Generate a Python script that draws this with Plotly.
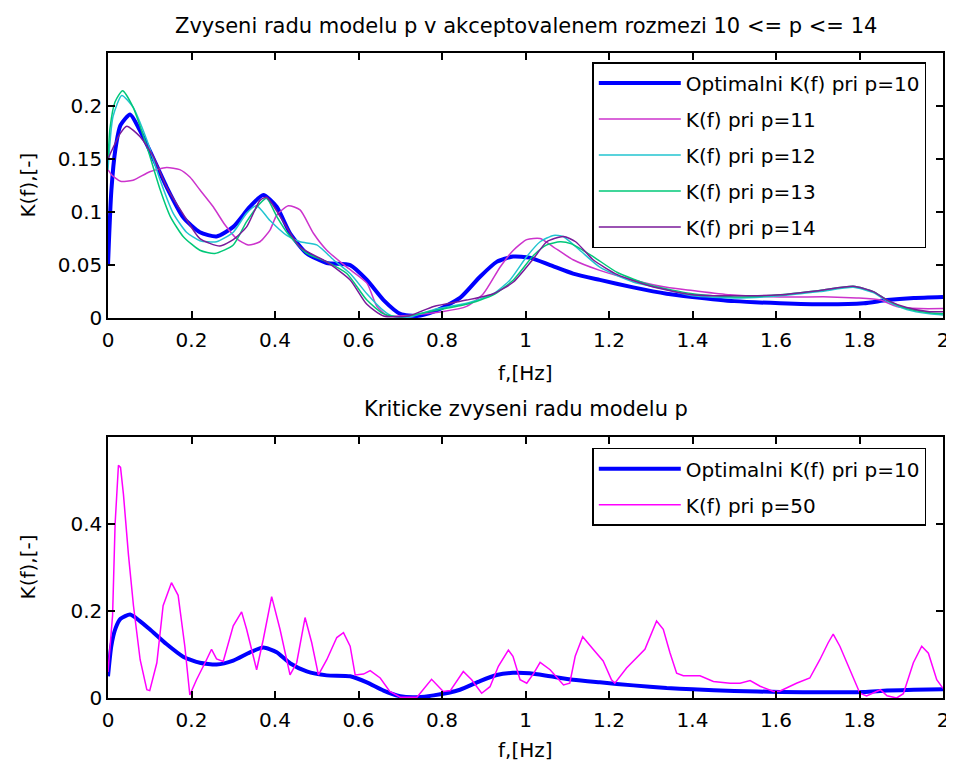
import plotly.graph_objects as go
from plotly.subplots import make_subplots

# frequency / K(f) values
f_p10 = [0, 0.008, 0.018, 0.03, 0.053, 0.075, 0.10, 0.14, 0.18, 0.22, 0.26, 0.30, 0.34, 0.372, 0.404,
         0.436, 0.476, 0.524, 0.58, 0.62, 0.66, 0.70, 0.74, 0.78, 0.843, 0.891, 0.931, 0.97, 1.01, 1.059,
         1.114, 1.178, 1.258, 1.338, 1.40, 1.50, 1.61, 1.72, 1.81, 1.866, 1.93, 2.0]
k_p10 = [0.05, 0.12, 0.16, 0.182, 0.192, 0.178, 0.158, 0.124, 0.095, 0.081, 0.077, 0.086, 0.105, 0.116, 0.105,
         0.080, 0.061, 0.052, 0.050, 0.036, 0.017, 0.004, 0.002, 0.006, 0.019, 0.039, 0.053, 0.058, 0.057, 0.050,
         0.042, 0.036, 0.029, 0.023, 0.020, 0.016, 0.014, 0.013, 0.014, 0.017, 0.019, 0.020]

f_p11 = [0, 0.009, 0.03, 0.06, 0.10, 0.14, 0.172, 0.196, 0.22, 0.252, 0.28, 0.308, 0.336, 0.364, 0.388,
         0.404, 0.432, 0.46, 0.492, 0.524, 0.572, 0.62, 0.644, 0.67, 0.70, 0.80, 0.859, 0.899, 0.939, 0.971,
         1.003, 1.035, 1.067, 1.114, 1.178, 1.258, 1.338, 1.40, 1.49, 1.61, 1.73, 1.793, 1.85, 1.889, 1.945, 2.0]
k_p11 = [0.14, 0.135, 0.129, 0.130, 0.138, 0.142, 0.140, 0.133, 0.121, 0.105, 0.088, 0.075, 0.069, 0.072, 0.083,
         0.097, 0.106, 0.102, 0.080, 0.064, 0.048, 0.033, 0.011, 0.002, 0.002, 0.006, 0.011, 0.023, 0.048, 0.064,
         0.074, 0.075, 0.067, 0.055, 0.045, 0.036, 0.029, 0.026, 0.022, 0.020, 0.020, 0.019, 0.017, 0.011, 0.009, 0.009]

f_p12 = [0, 0.012, 0.033, 0.06, 0.093, 0.125, 0.156, 0.188, 0.22, 0.26, 0.30, 0.332, 0.356, 0.388, 0.428,
         0.46, 0.50, 0.54, 0.58, 0.62, 0.66, 0.68, 0.72, 0.78, 0.859, 0.923, 0.963, 1.003, 1.035, 1.067,
         1.09, 1.13, 1.178, 1.258, 1.338, 1.40, 1.50, 1.61, 1.705, 1.785, 1.833, 1.866, 1.913, 1.968, 2.0]
k_p12 = [0.14, 0.19, 0.210, 0.199, 0.168, 0.130, 0.099, 0.081, 0.073, 0.072, 0.081, 0.099, 0.106, 0.092, 0.078,
         0.072, 0.069, 0.055, 0.042, 0.023, 0.007, 0.002, 0.001, 0.008, 0.014, 0.023, 0.036, 0.058, 0.072, 0.078,
         0.077, 0.064, 0.048, 0.034, 0.027, 0.021, 0.019, 0.021, 0.025, 0.029, 0.024, 0.016, 0.008, 0.004, 0.003]

f_p13 = [0, 0.005, 0.017, 0.035, 0.06, 0.093, 0.125, 0.149, 0.18, 0.22, 0.256, 0.30, 0.332, 0.364, 0.38,
         0.404, 0.43, 0.476, 0.524, 0.572, 0.62, 0.66, 0.70, 0.78, 0.859, 0.923, 0.971, 1.019, 1.051, 1.083,
         1.11, 1.162, 1.22, 1.30, 1.40, 1.50, 1.61, 1.705, 1.785, 1.833, 1.866, 1.913, 1.968, 2.0]
k_p13 = [0.15, 0.18, 0.204, 0.2145, 0.199, 0.162, 0.121, 0.096, 0.077, 0.064, 0.061, 0.069, 0.091, 0.108, 0.113,
         0.096, 0.080, 0.061, 0.053, 0.042, 0.017, 0.004, 0.001, 0.007, 0.013, 0.022, 0.036, 0.059, 0.069, 0.072,
         0.070, 0.058, 0.043, 0.031, 0.023, 0.020, 0.022, 0.026, 0.030, 0.025, 0.017, 0.009, 0.005, 0.004]

f_p14 = [0, 0.009, 0.029, 0.045, 0.077, 0.109, 0.14, 0.18, 0.22, 0.268, 0.30, 0.332, 0.364, 0.38, 0.412,
         0.46, 0.524, 0.58, 0.62, 0.66, 0.72, 0.78, 0.859, 0.923, 0.971, 1.019, 1.051, 1.091, 1.12, 1.162,
         1.22, 1.30, 1.40, 1.50, 1.61, 1.705, 1.785, 1.833, 1.866, 1.913, 1.968, 2.0]
k_p14 = [0.15, 0.158, 0.174, 0.181, 0.171, 0.152, 0.124, 0.098, 0.075, 0.068, 0.074, 0.086, 0.111, 0.114, 0.096,
         0.067, 0.053, 0.036, 0.013, 0.002, 0.002, 0.011, 0.017, 0.023, 0.034, 0.056, 0.072, 0.077, 0.072, 0.055,
         0.041, 0.030, 0.022, 0.021, 0.022, 0.026, 0.030, 0.025, 0.017, 0.010, 0.006, 0.006]

f_p50 = [0.0, 0.011, 0.017, 0.025, 0.03, 0.037, 0.049, 0.061, 0.077, 0.093, 0.10, 0.117, 0.132, 0.152, 0.168,
         0.184, 0.196, 0.212, 0.236, 0.248, 0.26, 0.276, 0.30, 0.32, 0.332, 0.356, 0.372, 0.392, 0.412, 0.436,
         0.452, 0.472, 0.488, 0.504, 0.524, 0.548, 0.564, 0.58, 0.592, 0.612, 0.628, 0.652, 0.675, 0.70, 0.74,
         0.775, 0.803, 0.82, 0.851, 0.871, 0.895, 0.915, 0.935, 0.959, 0.97, 0.987, 1.003, 1.02, 1.035, 1.059,
         1.091, 1.106, 1.119, 1.137, 1.162, 1.186, 1.206, 1.214, 1.242, 1.286, 1.314, 1.33, 1.346, 1.362, 1.378,
         1.418, 1.45, 1.49, 1.514, 1.538, 1.562, 1.594, 1.61, 1.649, 1.681, 1.705, 1.725, 1.737, 1.753, 1.777,
         1.801, 1.817, 1.85, 1.866, 1.889, 1.905, 1.929, 1.949, 1.965, 1.985, 2.0]
k_p50 = [0.06, 0.19, 0.40, 0.535, 0.53, 0.468, 0.329, 0.212, 0.088, 0.019, 0.017, 0.081, 0.212, 0.265, 0.236,
         0.119, 0.007, 0.042, 0.088, 0.112, 0.09, 0.084, 0.166, 0.198, 0.158, 0.065, 0.135, 0.233, 0.158, 0.053,
         0.081, 0.185, 0.127, 0.053, 0.088, 0.139, 0.150, 0.119, 0.053, 0.055, 0.063, 0.046, 0.015, 0.002, 0.002,
         0.043, 0.015, 0.017, 0.061, 0.042, 0.011, 0.026, 0.073, 0.110, 0.096, 0.042, 0.034, 0.057, 0.082, 0.065,
         0.030, 0.034, 0.096, 0.141, 0.112, 0.085, 0.042, 0.034, 0.069, 0.112, 0.177, 0.158, 0.104, 0.057, 0.051,
         0.051, 0.038, 0.034, 0.034, 0.040, 0.027, 0.015, 0.016, 0.034, 0.046, 0.088, 0.127, 0.147, 0.119, 0.065,
         0.011, 0.005, 0.019, 0.005, 0.000, 0.01, 0.081, 0.119, 0.103, 0.042, 0.022]

x_ticks = [0, 0.2, 0.4, 0.6, 0.8, 1, 1.2, 1.4, 1.6, 1.8, 2]
x_tick_text = ['0', '0.2', '0.4', '0.6', '0.8', '1', '1.2', '1.4', '1.6', '1.8', '2']
y1_ticks = [0, 0.05, 0.1, 0.15, 0.2]
y1_tick_text = ['0', '0.05', '0.1', '0.15', '0.2']
y2_ticks = [0, 0.2, 0.4]
y2_tick_text = ['0', '0.2', '0.4']

font_family = 'DejaVu Sans'
fs = 20
txt_font = dict(family = font_family, size = fs, color = 'black')

top_dom = [0.589, 1]
bot_dom = [0, 0.4047]

fig = make_subplots(rows = 2, cols = 1)

# =============================================================================
# top: p from 10 to 14
# =============================================================================

top_series = [(f_p10, k_p10, 'Optimalni K(f) pri p=10', '#0000ff', 4),
              (f_p11, k_p11, 'K(f) pri p=11', '#cc33cc', 1.5),
              (f_p12, k_p12, 'K(f) pri p=12', '#22c4d0', 1.5),
              (f_p13, k_p13, 'K(f) pri p=13', '#00c878', 1.5),
              (f_p14, k_p14, 'K(f) pri p=14', '#7a1a9a', 1.5)]

for fx, ky, name, col, lw in top_series:
    fig.add_trace(go.Scatter(x = fx, y = ky, name = name, mode = 'lines',
                             line = dict(color = col, width = lw, shape = 'spline', smoothing = 0.6),
                             legend = 'legend', legendgroup = name), row = 1, col = 1)

# =============================================================================
# bottom: p = 50
# =============================================================================

fig.add_trace(go.Scatter(x = f_p10, y = k_p10, name = 'Optimalni K(f) pri p=10', mode = 'lines',
                         line = dict(color = '#0000ff', width = 4, shape = 'spline', smoothing = 0.6),
                         legend = 'legend2', legendgroup = 'b10'), row = 2, col = 1)
fig.add_trace(go.Scatter(x = f_p50, y = k_p50, name = 'K(f) pri p=50', mode = 'lines',
                         line = dict(color = '#ff00ff', width = 1.5),
                         legend = 'legend2', legendgroup = 'b50'), row = 2, col = 1)

axis_style = dict(showline = True, linecolor = 'black', linewidth = 1.5, mirror = 'ticks',
                  ticks = 'inside', ticklen = 7, tickcolor = 'black', tickwidth = 1.5,
                  showgrid = False, zeroline = False, automargin = False,
                  tickfont = txt_font)

fig.update_xaxes(range = [0, 2], tickvals = x_ticks, ticktext = x_tick_text, domain = [0, 1],
                 ticklabelstandoff = 3, **axis_style)
fig.update_yaxes(**axis_style)
fig.update_yaxes(range = [0, 0.25], tickvals = y1_ticks, ticktext = y1_tick_text,
                 domain = top_dom, row = 1, col = 1)
fig.update_yaxes(range = [0, 0.6], tickvals = y2_ticks, ticktext = y2_tick_text,
                 domain = bot_dom, row = 2, col = 1)

legend_style = dict(bgcolor = 'white', bordercolor = 'black', borderwidth = 1.5,
                    font = txt_font, itemwidth = 82, tracegroupgap = 7,
                    xanchor = 'center', yanchor = 'top')

# titles and axis labels
notes = []
notes.append(dict(text = 'Zvyseni radu modelu p v akceptovalenem rozmezi 10 <= p <= 14', x = 0.5, y = top_dom[1],
                  yanchor = 'bottom', yshift = 13, font = dict(family = font_family, size = 21, color = 'black')))
notes.append(dict(text = 'Kriticke zvyseni radu modelu p', x = 0.5, y = bot_dom[1],
                  yanchor = 'bottom', yshift = 14, font = dict(family = font_family, size = 21, color = 'black')))
for dom, ysh in [(top_dom, -55), (bot_dom, -52)]:
    notes.append(dict(text = 'f,[Hz]', x = 0.5, y = dom[0], yanchor = 'middle', yshift = ysh, font = txt_font))
    notes.append(dict(text = 'K(f),[-]', x = 0, y = (dom[0] + dom[1]) / 2, xanchor = 'center', yanchor = 'middle',
                      xshift = -80, textangle = -90, font = txt_font))
for n in notes:
    n.update(xref = 'paper', yref = 'paper', showarrow = False)
    n.setdefault('xanchor', 'center')

# page body adds an 8px offset, so the figure is a little smaller than the window
fig.update_layout(
    width = 946, height = 762,
    paper_bgcolor = 'white', plot_bgcolor = 'white',
    margin = dict(l = 100, r = 11, t = 45, b = 72),
    showlegend = True,
    legend = dict(x = 0.78, y = 0.986, **legend_style),
    legend2 = dict(x = 0.78, y = 0.388, **legend_style),
    annotations = notes,
)

fig.write_html("out.html")
